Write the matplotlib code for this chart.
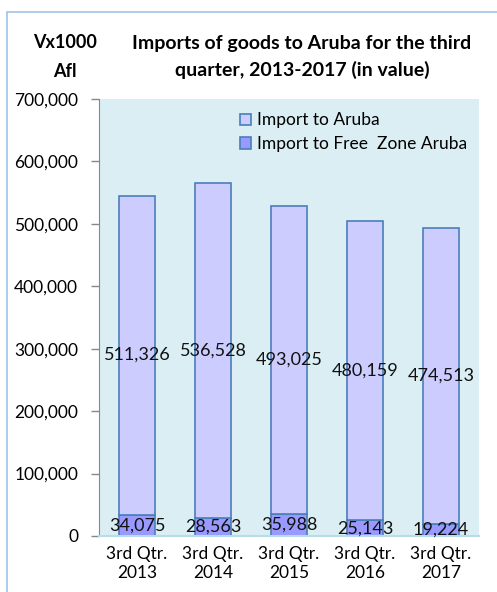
import matplotlib
matplotlib.use("Agg")
import matplotlib.pyplot as plt
from matplotlib.patches import Rectangle
from matplotlib.ticker import FuncFormatter

plt.rcParams['font.family'] = ['Lato', 'DejaVu Sans']

categories = ["3rd Qtr.\n2013", "3rd Qtr.\n2014", "3rd Qtr.\n2015", "3rd Qtr.\n2016", "3rd Qtr.\n2017"]
free_zone = [34075, 28563, 35988, 25143, 19224]
aruba = [511326, 536528, 493025, 480159, 474513]
yticks = [0, 100000, 200000, 300000, 400000, 500000, 600000, 700000]

W, H = 497, 592
fig = plt.figure(figsize=(W/100, H/100), dpi=100)

# outer chart border
fig.patches.append(Rectangle((7/W, -0.05), 1.2, 1 - 12/H + 0.05, transform=fig.transFigure,
                             fill=False, edgecolor='#9DC3E6', linewidth=1.2))

ax = fig.add_axes([99/W, 1 - 536/H, (479-99)/W, (536-99)/H])
ax.set_facecolor('#DAEEF3')

x = list(range(len(categories)))
w = 0.47
edge = '#4A7EBB'
b1 = ax.bar(x, free_zone, w, color='#9999FF', edgecolor=edge, linewidth=1.2,
            label='Import to Free  Zone Aruba')
b2 = ax.bar(x, aruba, w, bottom=free_zone, color='#CCCCFF', edgecolor=edge, linewidth=1.2,
            label='Import to Aruba')

for xi, fz, ar in zip(x, free_zone, aruba):
    ax.text(xi, fz/2, f"{fz:,}", ha='center', va='center', fontsize=13, color='#111111')
    ax.text(xi, fz + ar/2, f"{ar:,}", ha='center', va='center', fontsize=13, color='#111111')

ax.set_xlim(-0.5, len(categories) - 0.5)
ax.set_ylim(0, 700000)
ax.set_yticks(yticks)
ax.yaxis.set_major_formatter(FuncFormatter(lambda v, p: f"{int(v):,}"))
ax.set_xticks(x)
ax.set_xticklabels(categories, fontsize=12.5, linespacing=1.25)
ax.tick_params(axis='y', labelsize=12.5, color='#888888', length=6, width=1, pad=9)
ax.tick_params(axis='x', length=0, pad=7)

for s in ['top', 'right']:
    ax.spines[s].set_visible(False)
ax.spines['left'].set_color('#888888')
ax.spines['bottom'].set_color('#B7DDE8')
ax.spines['bottom'].set_linewidth(1.5)

leg = ax.legend(handles=[b2, b1], loc='upper left', bbox_to_anchor=(0.33, 1.005),
                frameon=False, fontsize=12.5, handlelength=0.65, handleheight=0.65,
                handletextpad=0.35, labelspacing=0.45)

fig.text(65/W, 1 - 57/H, "Vx1000\nAfl", ha='center', va='center', fontsize=13,
         fontweight='bold', linespacing=1.85)
fig.text(302/W, 1 - 57/H, "Imports of goods to Aruba for the third\nquarter, 2013-2017 (in value)",
         ha='center', va='center', fontsize=14, fontweight='bold', linespacing=1.6)

fig.savefig("out.png", dpi=100)
